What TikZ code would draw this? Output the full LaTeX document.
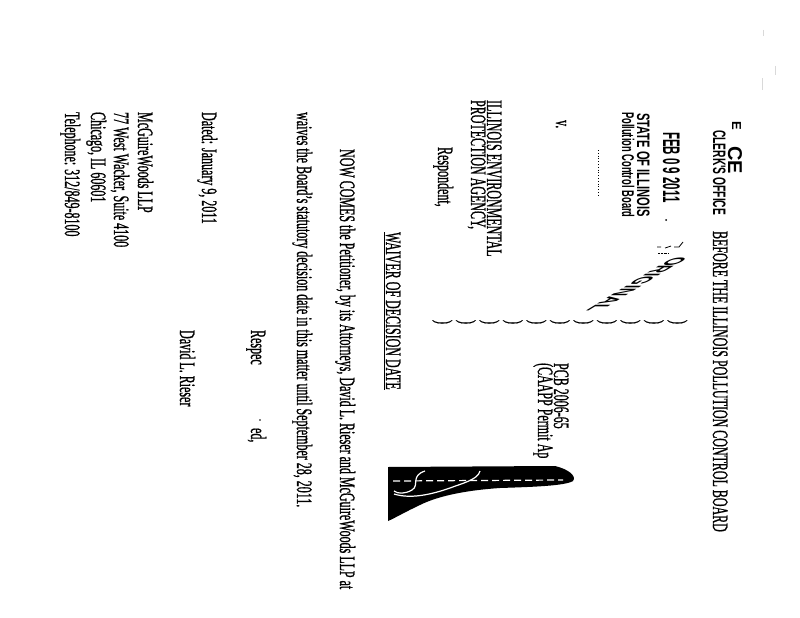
\documentclass[tikz,border=0pt]{standalone}
\usepackage{fontspec}
\setmainfont{Liberation Serif}[FakeBold=1.2]
\newfontfamily\stampfont{Liberation Sans}

\begin{document}
\begin{tikzpicture}[x=1pt,y=-1pt,
  line/.style={font=\fontsize{22}{24}\selectfont,rotate=-90,xscale=0.545,anchor=base west,inner sep=0pt},
  stamp/.style={font=\stampfont\bfseries\fontsize{#1}{#1}\selectfont,anchor=base west,inner sep=0pt}]

  % Page
  \fill[white] (0,0) rectangle (800,618);
  \useasboundingbox (0,0) rectangle (800,618);

  % Heading
  \node[line] (board) at (713,231) {BEFORE THE ILLINOIS POLLUTION CONTROL BOARD};

  % Received stamp
  \node[stamp=13,rotate=-90] (recv) at (732,121) {E};
  \node[stamp=20,rotate=-90,xscale=1.0] (ce) at (728,146) {CE};
  \node[stamp=18,rotate=-90,xscale=0.57] (clerk) at (713,130) {CLERK'S OFFICE};
  \node[stamp=24,rotate=-90,xscale=0.48] (feb) at (663,132) {FEB 0 9 2011};
  \node[stamp=18,rotate=-90,xscale=0.62] (state) at (637,113) {STATE OF ILLINOIS};
  \node[stamp=17,rotate=-90,xscale=0.55] (pcb board) at (622,112) {Pollution Control Board};
  \draw[dotted,thick] (598,150) -- (598,197);
  \fill (666,220) circle (1);
  \draw[thick] (657,247) -- (661,247) (665,248) -- (671,246) (674,247) -- (679,247) -- (683,242);
  \draw[densely dotted] (658,253) -- (668,253);
  \node[stamp=22,cm={-0.82,-0.5,1,0,(0,0)}] (original) at (674,257) {ORIGINAL};

  % Caption
  \node[line] (versus) at (556,120) {v.};
  \node[line] (agency1) at (487,100) {ILLINOIS ENVIRONMENTAL};
  \node[line] (agency2) at (471,100) {PROTECTION AGENCY,};
  \node[line] (resp) at (438,147) {Respondent,};
  \foreach \i in {0,...,10}
    \node[line] (paren\i) at (437+23.5*\i,320) {)};
  \node[line] (case) at (554,363) {PCB 2006-65};
  \node[line] (appeal) at (538,363) {(CAAPP Permit Ap};

  % Blot
  \fill (388,467) -- (555,466) .. controls (568,469) and (577,476) .. (573,481)
    .. controls (565,486) and (530,487) .. (500,488)
    .. controls (470,490) and (440,495) .. (420,505)
    .. controls (405,512) and (395,518) .. (388,521) -- cycle;
  \draw[white,line width=1.2pt,dash pattern=on 7pt off 4pt] (393,481) -- (563,480);
  \draw[white,line width=1.2pt] (425,471) .. controls (410,476) and (420,485) .. (412,490)
    .. controls (405,494) and (398,494) .. (394,491);
  \draw[white,line width=1.2pt] (480,471) .. controls (478,480) and (460,484) .. (450,488)
    .. controls (430,495) and (410,499) .. (394,494);

  % Title
  \node[line] (waiver) at (386,232) {\underline{WAIVER OF DECISION DATE}};

  % Body
  \node[line] (body1) at (340,149) {NOW COMES the Petitioner, by its Attorneys, David L. Rieser and McGuireWoods LLP at};
  \node[line] (body2) at (297,112) {waives the Board's statutory decision date in this matter until September 28, 2011.};

  % Signature
  \node[line] (resp1) at (251,330) {Respec};
  \node[line] (resp2) at (251,428) {ed,};
  \fill (260,420) circle (0.8);
  \node[line] (dated) at (202,112) {Dated: January 9, 2011};
  \node[line] (signer) at (180,330) {David L. Rieser};
  \node[line] (firm) at (138,112) {McGuireWoods LLP};
  \node[line] (street) at (114,112) {77 West Wacker, Suite 4100};
  \node[line] (city) at (91,112) {Chicago, IL 60601};
  \node[line] (phone) at (65,112) {Telephone: 312/849-8100};

  % Scan marks
  \draw[black!15] (763,30) -- (763,36) (775,66) -- (775,75) (762,78) -- (762,90);

\end{tikzpicture}
\end{document}
